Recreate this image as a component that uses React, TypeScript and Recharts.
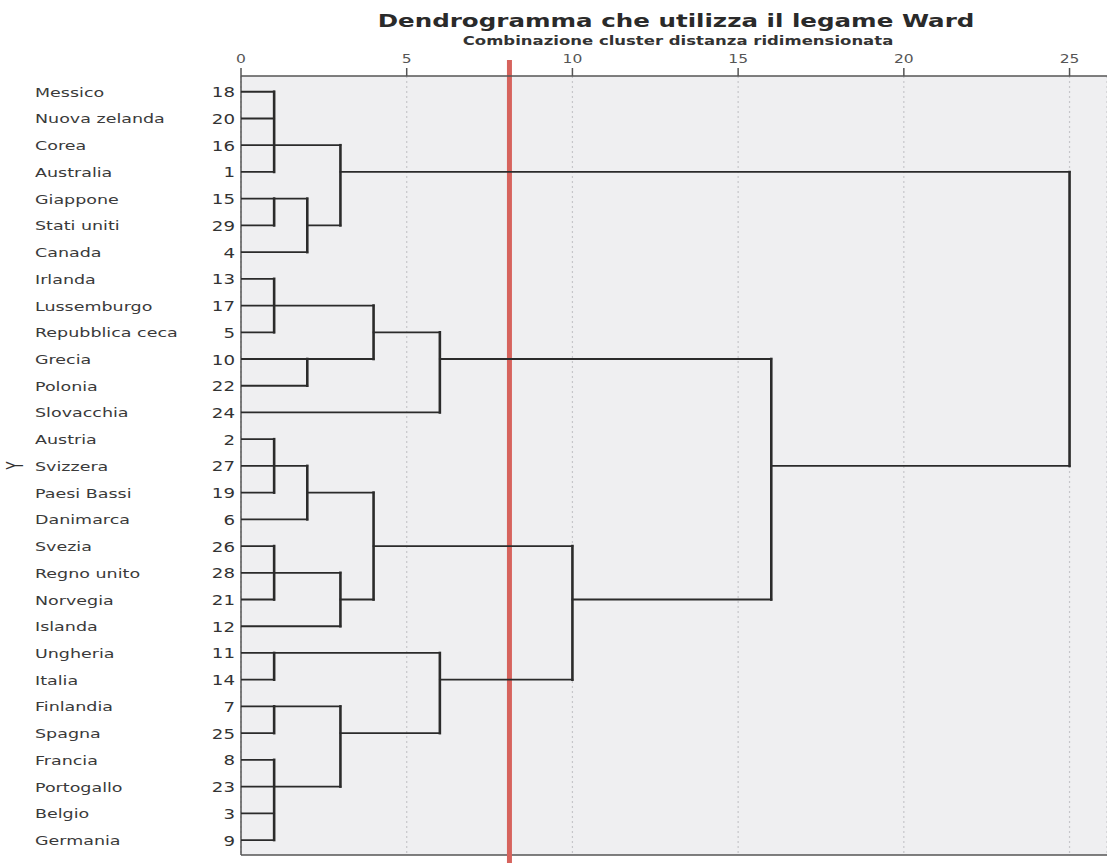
import {
  ScatterChart,
  Scatter,
  XAxis,
  YAxis,
  CartesianGrid,
  ReferenceLine,
} from "recharts";

// leaves, top to bottom
const countries = [
  "Messico", "Nuova zelanda", "Corea", "Australia", "Giappone", "Stati uniti", "Canada",
  "Irlanda", "Lussemburgo", "Repubblica ceca", "Grecia", "Polonia", "Slovacchia",
  "Austria", "Svizzera", "Paesi Bassi", "Danimarca", "Svezia", "Regno unito", "Norvegia",
  "Islanda", "Ungheria", "Italia", "Finlandia", "Spagna", "Francia", "Portogallo",
  "Belgio", "Germania",
];
const caseNumbers = [
  18, 20, 16, 1, 15, 29, 4, 13, 17, 5, 10, 22, 24, 2, 27, 19, 6, 26, 28, 21, 12, 11, 14,
  7, 25, 8, 23, 3, 9,
];

// merges: numbers are leaf rows, "cN" refers to merge N
const clusterChildren: (number | string)[][] = [
  [0, 1, 2, 3],
  [4, 5],
  ["c1", 6],
  ["c0", "c2"],
  [7, 8, 9],
  [10, 11],
  ["c4", "c5"],
  ["c6", 12],
  [13, 14, 15],
  ["c8", 16],
  [17, 18, 19],
  ["c10", 20],
  ["c9", "c11"],
  [21, 22],
  [23, 24],
  [25, 26, 27, 28],
  ["c14", "c15"],
  ["c13", "c16"],
  ["c12", "c17"],
  ["c7", "c18"],
  ["c3", "c19"],
];
// rescaled distance of each merge
const clusterHeights = [1, 1, 2, 3, 1, 2, 4, 6, 1, 2, 1, 3, 4, 1, 1, 1, 3, 6, 10, 16, 25];
// row where each merge's link leaves to the right
const clusterRows = [2, 4, 5, 3, 8, 10, 9, 10, 14, 15, 18, 19, 17, 21, 23, 26, 24, 22, 19, 14, 3];

const xTicks = [0, 5, 10, 15, 20, 25];
const CUT_OFF = 8.1;

const FONT = "DejaVu Sans";
const X_DOMAIN: [number, number] = [0, 26.13];
const Y_DOMAIN: [number, number] = [-0.59, 28.56];

const nodeRow = (id: number | string) =>
  typeof id === "number" ? id : clusterRows[Number(id.slice(1))];
const nodeHeight = (id: number | string) =>
  typeof id === "number" ? 0 : clusterHeights[Number(id.slice(1))];

type Seg = { pts: { x: number; y: number }[]; vertical: boolean };
const segments: Seg[] = [];
clusterChildren.forEach((kids, i) => {
  const h = clusterHeights[i];
  const rows = kids.map(nodeRow);
  segments.push({
    pts: [
      { x: h, y: Math.min(...rows) },
      { x: h, y: Math.max(...rows) },
    ],
    vertical: true,
  });
  kids.forEach((k) => {
    segments.push({
      pts: [
        { x: nodeHeight(k), y: nodeRow(k) },
        { x: h, y: nodeRow(k) },
      ],
      vertical: false,
    });
  });
});

const rowIndices = countries.map((_, i) => i);

function LeafTick(props: any) {
  const { y, payload } = props;
  const i = payload.value as number;
  return (
    <g>
      <text
        transform={`translate(35,${y}) scale(1.4,1)`}
        dy={5}
        fontSize={12.5}
        fontFamily={FONT}
        fill="#3a3a3a"
      >
        {countries[i]}
      </text>
      <text
        transform={`translate(235,${y}) scale(1.3,1)`}
        dy={5.5}
        textAnchor="end"
        fontSize={14}
        fontFamily={FONT}
        fill="#333"
      >
        {caseNumbers[i]}
      </text>
    </g>
  );
}

function DistTick(props: any) {
  const { x, y, payload } = props;
  return (
    <text
      transform={`translate(${x},${y}) scale(1.35,1)`}
      textAnchor="middle"
      fontSize={11.5}
      fontFamily={FONT}
      fill="#555"
    >
      {payload.value}
    </text>
  );
}

function AxisTitle(props: any) {
  const { viewBox } = props;
  const cx = viewBox.x + viewBox.width / 2 + 4;
  return (
    <text
      transform={`translate(${cx},${viewBox.y - 1}) scale(1.32,1)`}
      textAnchor="middle"
      fontSize={12.5}
      fontWeight="bold"
      fontFamily={FONT}
      fill="#333"
    >
      Combinazione cluster distanza ridimensionata
    </text>
  );
}

function YTitle(props: any) {
  const { viewBox } = props;
  const cy = viewBox.y + viewBox.height / 2;
  return (
    <text
      transform={`translate(23,${cy}) scale(1.8,1) rotate(-90)`}
      textAnchor="middle"
      fontSize={13}
      fontFamily={FONT}
      fill="#333"
    >
      Y
    </text>
  );
}

export default function App() {
  return (
    <div style={{ position: "absolute", left: 0, top: 0, width: 1107, height: 863 }}>
      <svg
        width={1107}
        height={40}
        style={{ position: "absolute", left: 0, top: 0, pointerEvents: "none" }}
      >
        <text
          transform="translate(676,27) scale(1.365,1)"
          textAnchor="middle"
          fontSize={18}
          fontWeight="bold"
          fontFamily={FONT}
          fill="#2a2a2a"
        >
          Dendrogramma che utilizza il legame Ward
        </text>
      </svg>
      <ScatterChart
        width={1107}
        height={863}
        margin={{ top: 46, right: 0, bottom: 8, left: 0 }}
      >
        <CartesianGrid
          horizontal={false}
          stroke="#c6c6ca"
          strokeDasharray="2 3"
          strokeWidth={1.2}
          fill="#efeff1"
        />
        <XAxis
          type="number"
          dataKey="x"
          orientation="top"
          domain={X_DOMAIN}
          allowDataOverflow
          ticks={xTicks}
          interval={0}
          height={30}
          tickSize={8}
          tickMargin={5}
          tick={<DistTick />}
          axisLine={{ stroke: "#555", strokeWidth: 1.5 }}
          tickLine={{ stroke: "#555", strokeWidth: 1.5 }}
          label={{ content: <AxisTitle /> }}
        />
        <YAxis
          type="number"
          dataKey="y"
          reversed
          domain={Y_DOMAIN}
          allowDataOverflow
          ticks={rowIndices}
          interval={0}
          width={241}
          tickLine={false}
          tick={<LeafTick />}
          axisLine={{ stroke: "#555", strokeWidth: 1.5 }}
          label={{ content: <YTitle /> }}
        />
        <ReferenceLine y={Y_DOMAIN[1]} stroke="#555" strokeWidth={1.5} />
        {segments.map((s, i) => (
          <Scatter
            key={i}
            data={s.pts}
            fill="#2b2b2b"
            line={{
              stroke: "#2b2b2b",
              strokeWidth: s.vertical ? 2.6 : 1.8,
              strokeLinecap: "square",
            }}
            shape={() => <g />}
            legendType="none"
            isAnimationActive={false}
          />
        ))}
        <ReferenceLine
          segment={[
            { x: CUT_OFF, y: -1.19 },
            { x: CUT_OFF, y: 28.9 },
          ]}
          stroke="#d6635d"
          strokeWidth={5}
          ifOverflow="visible"
        />
      </ScatterChart>
    </div>
  );
}
